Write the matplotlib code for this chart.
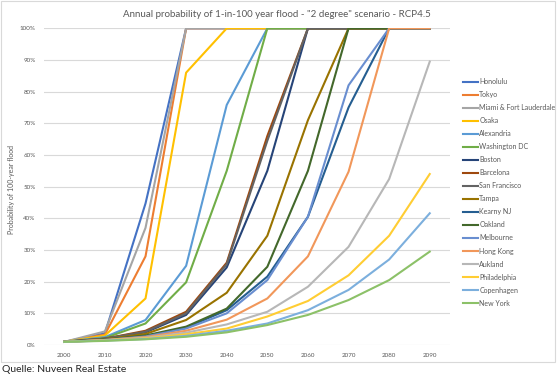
import matplotlib.pyplot as plt
import matplotlib.patches as mpatches
import numpy as np

plt.rcParams['font.family'] = ['Lato', 'DejaVu Sans']

# decades on the x axis
years = ['2000', '2010', '2020', '2030', '2040', '2050', '2060', '2070', '2080', '2090']

# annual probability of a 1-in-100 year flood (%)
honolulu = [1, 3.7, 44.7, 100, 100, 100, 100, 100, 100, 100]
tokyo = [1, 3.3, 28, 100, 100, 100, 100, 100, 100, 100]
miami = [1, 4.3, 37, 100, 100, 100, 100, 100, 100, 100]
osaka = [1, 3.0, 14.7, 86, 100, 100, 100, 100, 100, 100]
alexandria = [1, 2.5, 7.9, 25, 75.8, 100, 100, 100, 100, 100]
washington = [1, 2.2, 6.8, 19.8, 55, 100, 100, 100, 100, 100]
boston = [1, 2.0, 4.0, 9.5, 24.5, 55, 100, 100, 100, 100]
barcelona = [1, 2.0, 4.5, 10.5, 26, 66, 100, 100, 100, 100]
san_francisco = [1, 2.0, 4.2, 10, 25.5, 64.5, 100, 100, 100, 100]
tampa = [1, 1.8, 3.5, 7.9, 16.5, 34.5, 71, 100, 100, 100]
kearny = [1, 1.7, 2.8, 5.5, 11, 21.6, 40.5, 75, 100, 100]
oakland = [1, 1.7, 3.0, 5.8, 11.5, 24.7, 55, 100, 100, 100]
melbourne = [1, 1.6, 2.7, 5.2, 10, 20.5, 40.5, 82, 100, 100]
hong_kong = [1, 1.6, 2.5, 4.5, 8, 14.7, 28, 54.7, 100, 100]
auckland = [1, 1.5, 2.3, 3.9, 6.5, 10.5, 18.4, 31, 52.4, 89.5]
philadelphia = [1, 1.5, 2.1, 3.4, 5.2, 9, 13.9, 22, 34.5, 54]
copenhagen = [1, 1.4, 1.9, 2.9, 4.5, 6.8, 11, 17.4, 27, 41.6]
new_york = [1, 1.3, 1.8, 2.6, 4, 6.3, 9.5, 14.2, 20.5, 29.5]

cities = ['Honolulu', 'Tokyo', 'Miami & Fort Lauderdale', 'Osaka', 'Alexandria',
          'Washington DC', 'Boston', 'Barcelona', 'San Francisco', 'Tampa',
          'Kearny NJ', 'Oakland', 'Melbourne', 'Hong Kong', 'Aukland',
          'Philadelphia', 'Copenhagen', 'New York']
series = [honolulu, tokyo, miami, osaka, alexandria, washington, boston, barcelona,
          san_francisco, tampa, kearny, oakland, melbourne, hong_kong, auckland,
          philadelphia, copenhagen, new_york]

# Excel default palette
colors = ['#4472C4', '#ED7D31', '#A5A5A5', '#FFC000', '#5B9BD5', '#70AD47',
          '#264478', '#9E480E', '#636363', '#997300', '#255E91', '#43682B',
          '#698ED0', '#F1975A', '#B7B7B7', '#FFCD33', '#7CAFDD', '#8CC168']

fig = plt.figure(figsize=(5.57, 3.76), dpi=100)
ax = fig.add_axes([0.079, 0.0824, 0.729, 0.8423])

x = np.arange(len(years))
for name, vals, c in zip(cities, series, colors):
    ax.plot(x, np.array(vals) / 100, color=c, lw=1.5, label=name)

ax.set_xlim(-0.5, len(years) - 0.5)
ax.set_ylim(0, 1.0)
ax.set_xticks(x)
ax.set_xticklabels(years)
ax.set_yticks(np.arange(0, 1.01, 0.1))
ax.set_yticklabels([f'{int(round(v * 100))}%' for v in np.arange(0, 1.01, 0.1)])
ax.tick_params(length=0, labelsize=4.5, labelcolor='#595959', pad=6)
ax.grid(axis='y', color='#D9D9D9', lw=0.8)
ax.set_axisbelow(True)
for s in ax.spines.values():
    s.set_visible(False)

ax.set_ylabel('Probability of 100-year flood', fontsize=5, color='#595959')
ax.yaxis.set_label_coords(-0.072, 0.49)
fig.text(0.497, 0.962, 'Annual probability of 1-in-100 year flood - "2 degree" scenario - RCP4.5',
         ha='center', va='center', fontsize=7, color='#595959')

fig.legend(loc='upper left', bbox_to_anchor=(463 / 557, 1 - 78 / 376), frameon=False,
           fontsize=5, handlelength=2.2, handletextpad=0.15, labelspacing=0.87,
           borderpad=0, borderaxespad=0, labelcolor='#595959')

# chart border like the Excel chart area
fig.patches.append(mpatches.Rectangle((1 / 557, 1 - 362 / 376), 554 / 557, 361 / 376,
                                      transform=fig.transFigure, fill=False,
                                      edgecolor='#D9D9D9', lw=0.8))

fig.text(0.004, 1 - 370 / 376, 'Quelle: Nuveen Real Estate', ha='left', va='center',
         fontsize=7.5, color='#262626')

fig.savefig('out.png', dpi=100)
